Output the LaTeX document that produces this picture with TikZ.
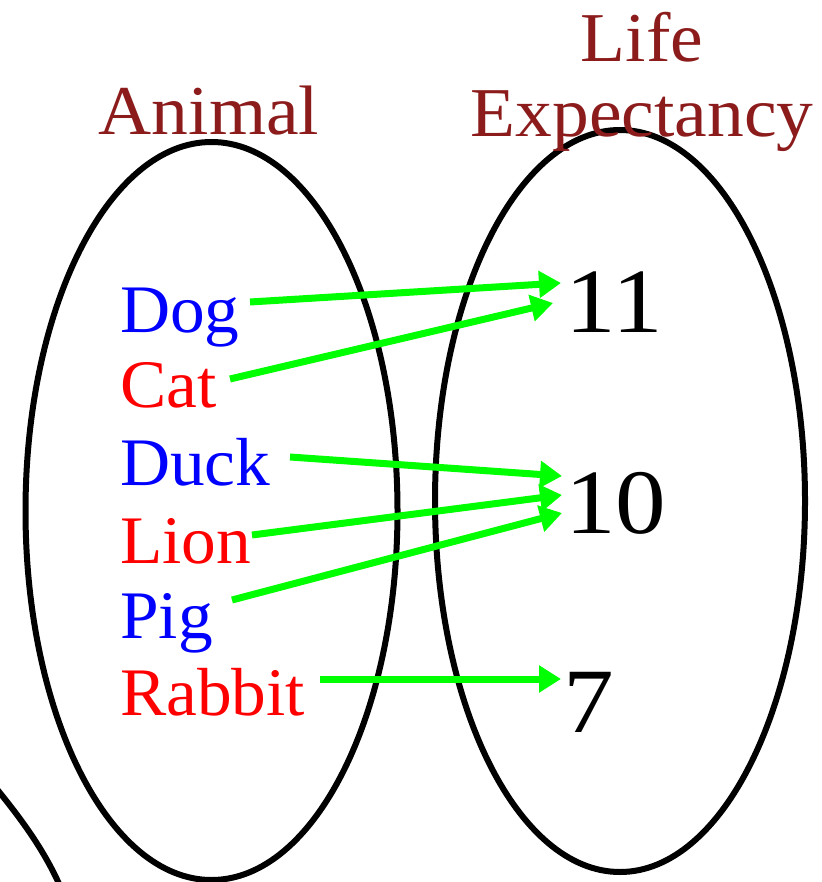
\documentclass[tikz,border=0pt]{standalone}
\usepackage{fontspec}
\setmainfont[FakeStretch=1.05]{Liberation Serif}
\newfontfamily\wordfont[FakeStretch=1.02]{Liberation Serif}
\newfontfamily\numfont[FakeStretch=1.1]{Liberation Serif}
\usetikzlibrary{arrows.meta}
\definecolor{titlered}{RGB}{140,28,28}
\definecolor{arrgreen}{RGB}{0,255,0}
\definecolor{blueword}{RGB}{0,0,255}
\definecolor{redword}{RGB}{255,0,0}
\tikzset{
  title/.style={text=titlered, inner sep=0pt, font=\fontsize{70}{75}\selectfont},
  animal/.style={inner sep=0pt, anchor=base west, font=\wordfont\fontsize{68}{77}\selectfont},
  value/.style={inner sep=0pt, anchor=base west, text=black, font=\numfont\fontsize{92}{100}\selectfont},
  setoval/.style={draw=black, line width=6pt},
  maparrow/.style={draw=arrgreen, line width=7pt, -{Triangle[length=22pt,width=26pt]}}
}
\begin{document}
\begin{tikzpicture}[x=1pt,y=-1pt]
\useasboundingbox (0,0) rectangle (821,882);
% ovals
\draw[setoval] (211.5,511) ellipse [x radius=186pt, y radius=369pt];
\draw[setoval] (620,501) ellipse [x radius=185pt, y radius=371pt];
\begin{scope}
\clip (0,0) rectangle (821,882);
\draw[setoval] (-4,788) .. controls (22,820) and (44,850) .. (60,886);
\end{scope}
% titles
\node[title, anchor=base] (animaltitle) at (209,135) {Animal};
\node[title, anchor=north, align=center] (lifetitle) at (642,12) {Life\\Expectancy};
% animals
\node[animal, text=blueword] (dog) at (120,332) {Dog};
\node[animal, text=redword] (cat) at (120,407) {Cat};
\node[animal, text=blueword] (duck) at (120,485) {Duck};
\node[animal, text=redword] (lion) at (120,563) {Lion};
\node[animal, text=blueword] (pig) at (120,638) {Pig};
\node[animal, text=redword] (rabbit) at (120,715) {Rabbit};
% values
\node[value] (v11) at (565,332) {11};
\node[value] (v10) at (565,533) {10};
\node[value] (v7) at (563,732) {7};
% connector end points
\coordinate (dogS) at (250,302);
\coordinate (catS) at (230,379);
\coordinate (duckS) at (290,457);
\coordinate (lionS) at (252,535);
\coordinate (pigS) at (232,600);
\coordinate (rabbitS) at (320,679);
\coordinate (e11a) at (561,283);
\coordinate (e11b) at (553,303);
\coordinate (e10a) at (562,476);
\coordinate (e10b) at (562,495);
\coordinate (e10c) at (562,513);
\coordinate (e7) at (561,679);
% arrows
\draw[maparrow] (dogS) -- (e11a);
\draw[maparrow] (catS) -- (e11b);
\draw[maparrow] (duckS) -- (e10a);
\draw[maparrow] (lionS) -- (e10b);
\draw[maparrow] (pigS) -- (e10c);
\draw[maparrow] (rabbitS) -- (e7);
\end{tikzpicture}
\end{document}
